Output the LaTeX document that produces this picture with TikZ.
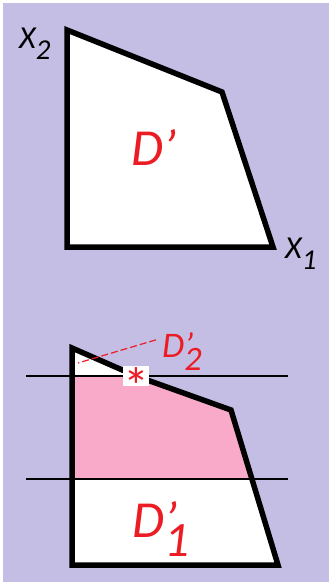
\documentclass[tikz,border=0pt]{standalone}
\usepackage{fontspec}
\setmainfont{Carlito}
\usetikzlibrary{positioning}
\definecolor{lavender}{RGB}{197,190,228}
\definecolor{rosefill}{RGB}{248,170,200}
\definecolor{labelred}{RGB}{236,28,36}
\newcommand{\primed}[2]{#1\rlap{'}\raisebox{-0.38em}{\scalebox{0.95}{#2}}}
\newcommand{\axisname}[2]{#1\raisebox{-0.37em}{\scalebox{0.9}{#2}}}

\begin{document}
\begin{tikzpicture}[x=1pt, y=-1pt]
% Define styles
\tikzstyle{region} = [line width=5.5pt, line join=miter]
\tikzstyle{cut} = [line width=1.8pt]
\tikzstyle{axislabel} = [font=\itshape\fontsize{32}{32}\selectfont, inner sep=0pt, anchor=base west]
\tikzstyle{setlabel} = [font=\itshape\fontsize{52}{52}\selectfont, text=labelred, inner sep=0pt, anchor=base west]
\tikzstyle{leader} = [labelred, dash pattern=on 7pt off 3pt, line width=1.2pt]

\useasboundingbox (0,0) rectangle (329,582);
\fill[white] (0,0) rectangle (329,582);
\fill[lavender] (3,3) rectangle (329,582);

% Top region
\coordinate (a1) at (67,30);
\coordinate (a2) at (222,92);
\coordinate (a3) at (273,247);
\coordinate (a4) at (67,247);
\filldraw[region, fill=white] (a1) -- (a2) -- (a3) -- (a4) -- cycle;
\node (x2) [axislabel] at (19,48) {\axisname{X}{2}};
\node (x1) [axislabel] at (285,258) {\axisname{X}{1}};
\node (dtop) [setlabel] at (131,165) {D'};

% Bottom region
\coordinate (b1) at (72,348);
\coordinate (b2) at (136,376);
\coordinate (b3) at (231,410);
\coordinate (b4) at (278,565);
\coordinate (b5) at (72,565);
\coordinate (c1) at (72,376);
\coordinate (c2) at (72,479);
\coordinate (c3) at (252,479);
\fill[white] (b1) -- (b2) -- (b3) -- (b4) -- (b5) -- cycle;
\fill[rosefill] (c1) -- (b2) -- (b3) -- (c3) -- (c2) -- cycle;
\coordinate (l1) at (26,376);
\coordinate (r1) at (288,376);
\coordinate (l2) at (26,479);
\coordinate (r2) at (288,479);
\draw[cut] (l1) -- (r1);
\draw[cut] (l2) -- (r2);
\draw[region] (b1) -- (b2) -- (b3) -- (b4) -- (b5) -- cycle;
\node (star) [fill=white, minimum width=22pt, minimum height=20pt, inner sep=0pt, text=labelred,
  font=\fontsize{52}{52}\selectfont] at (b2) {\raisebox{-0.55em}[0pt][0pt]{*}};

% Labels
\node (dtwo) [setlabel, font=\itshape\fontsize{36}{36}\selectfont] at (162,357) {\primed{D}{2}};
\coordinate (tip) at (78,363);
\draw[leader] ([xshift=-6pt, yshift=-8pt]dtwo.north west) -- (tip);
\node (done) [setlabel] at (132,537) {\primed{D}{1}};
\end{tikzpicture}
\end{document}
